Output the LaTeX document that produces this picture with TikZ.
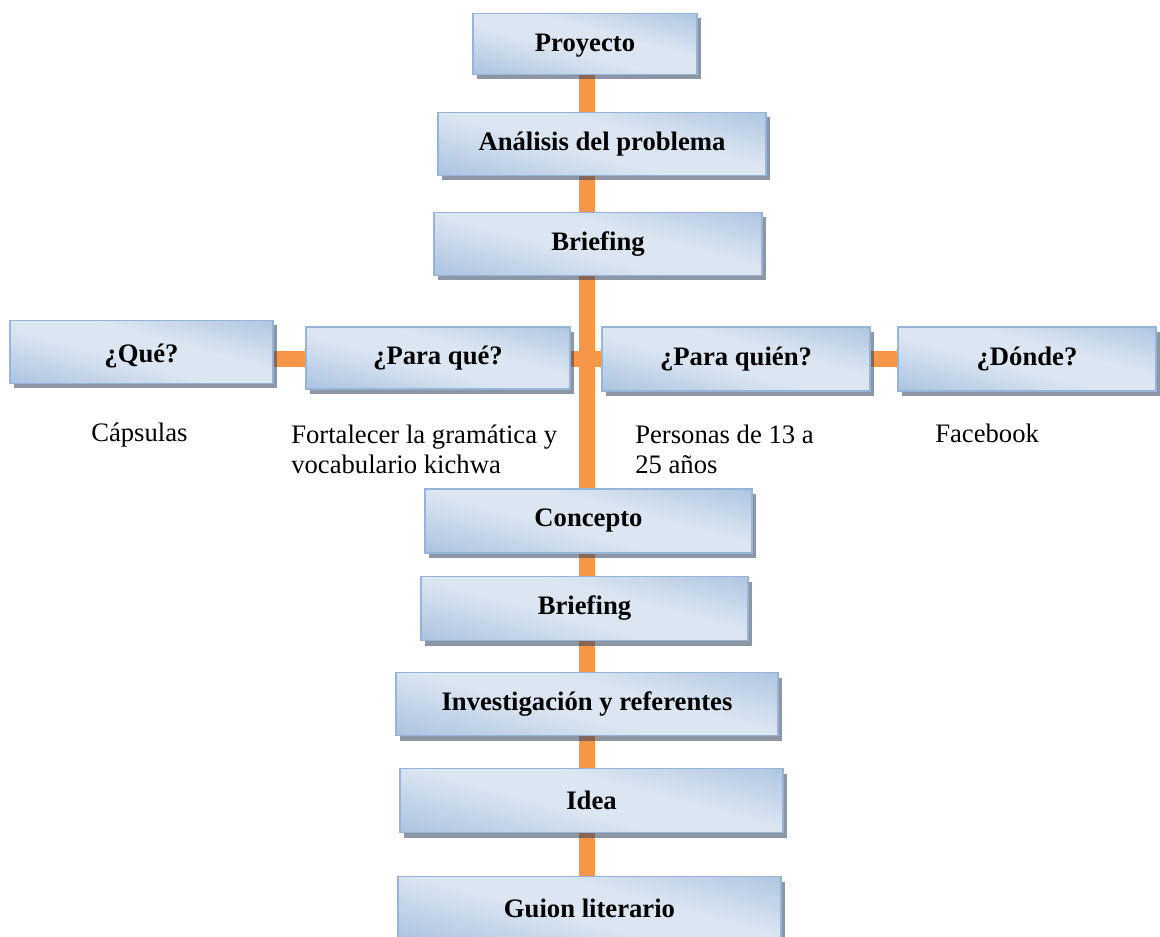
\documentclass[tikz,border=0pt]{standalone}
\usepackage{fontspec}
\setmainfont{Liberation Serif}
\usetikzlibrary{calc,shadows}
\pgfdeclarelayer{bg}
\pgfsetlayers{bg,main}
\definecolor{bdark}{RGB}{149,179,215}
\definecolor{blight}{HTML}{DCE6F2}
\definecolor{bedge}{RGB}{150,180,216}
\definecolor{connc}{HTML}{F79646}
\definecolor{shad}{RGB}{45,64,91}
\pgfdeclareverticalshading{wordgrad}{100bp}{color(0bp)=(bdark); color(8bp)=(bdark); color(45bp)=(blight); color(58bp)=(blight); color(94bp)=(bdark); color(100bp)=(bdark)}
\tikzset{
  box/.style={draw=bedge, line width=1.2pt, shading=wordgrad, shading angle=-15,
    inner sep=0pt, align=center,
    font=\fontsize{20}{23}\selectfont\bfseries,
    drop shadow={shadow xshift=3pt, shadow yshift=-3.75pt, fill=shad, opacity=0.55}},
  conn/.style={draw=connc, line width=12pt},
  lbl/.style={font=\fontsize{20}{23}\selectfont, inner sep=0pt, align=left, anchor=base west},
}
\begin{document}
\begin{tikzpicture}[x=0.75pt,y=-0.75pt]
\useasboundingbox (0,0) rectangle (1160,937);
\coordinate (axis) at (587,0);
\coordinate (hy) at (0,359);
\node[box, minimum width=168pt, minimum height=45.75pt, text height=16pt, text depth=4.5pt] (proy) at (585,44) {Proyecto};
\node[box, minimum width=246pt, minimum height=47.25pt] (anal) at (602,144) {Análisis del problema};
\node[box, minimum width=246pt, minimum height=47.25pt] (brief1) at (598,244) {Briefing};
\node[box, minimum width=197.25pt, minimum height=47.25pt, text height=21pt, text depth=4.5pt] (que) at (141.5,352) {¿Qué?};
\node[box, minimum width=198pt, minimum height=46.5pt] (paraque) at (438,358) {¿Para qué?};
\node[box, minimum width=201pt, minimum height=48pt] (paraquien) at (736,359) {¿Para quién?};
\node[box, minimum width=193.5pt, minimum height=48pt] (donde) at (1027,359) {¿Dónde?};
\node[box, minimum width=245.25pt, minimum height=48pt] (concepto) at (588.5,521) {Concepto};
\node[box, minimum width=245.25pt, minimum height=48pt] (brief2) at (584.5,608.5) {Briefing};
\node[box, minimum width=286.5pt, minimum height=47.25pt] (invest) at (587,704) {Investigación y referentes};
\node[box, minimum width=287.25pt, minimum height=48pt] (idea) at (591.5,800.5) {Idea};
\node[box, minimum width=287.25pt, minimum height=47.25pt] (guion) at (589.5,908) {Guion literario};

\node[lbl] (t1) at (91,442) {Cápsulas};
\node[lbl] (t2) at (291,474) {Fortalecer la gramática y\\vocabulario kichwa};
\node[lbl] (t3) at (635,474) {Personas de 13 a\\25 años};
\node[lbl] (t4) at (935,443) {Facebook};

\begin{pgfonlayer}{bg}
\draw[conn] (proy.south -| axis) -- (anal.north -| axis);
\draw[conn] (anal.south -| axis) -- (brief1.north -| axis);
\draw[conn] (brief1.south -| axis) -- (concepto.north -| axis);
\draw[conn] (concepto.south -| axis) -- (brief2.north -| axis);
\draw[conn] (brief2.south -| axis) -- (invest.north -| axis);
\draw[conn] (invest.south -| axis) -- (idea.north -| axis);
\draw[conn] (idea.south -| axis) -- (guion.north -| axis);
\draw[conn] (que.east |- hy) -- (paraque.west |- hy);
\draw[conn] (paraque.east |- hy) -- (paraquien.west |- hy);
\draw[conn] (paraquien.east |- hy) -- (donde.west |- hy);
\end{pgfonlayer}
\end{tikzpicture}
\end{document}
